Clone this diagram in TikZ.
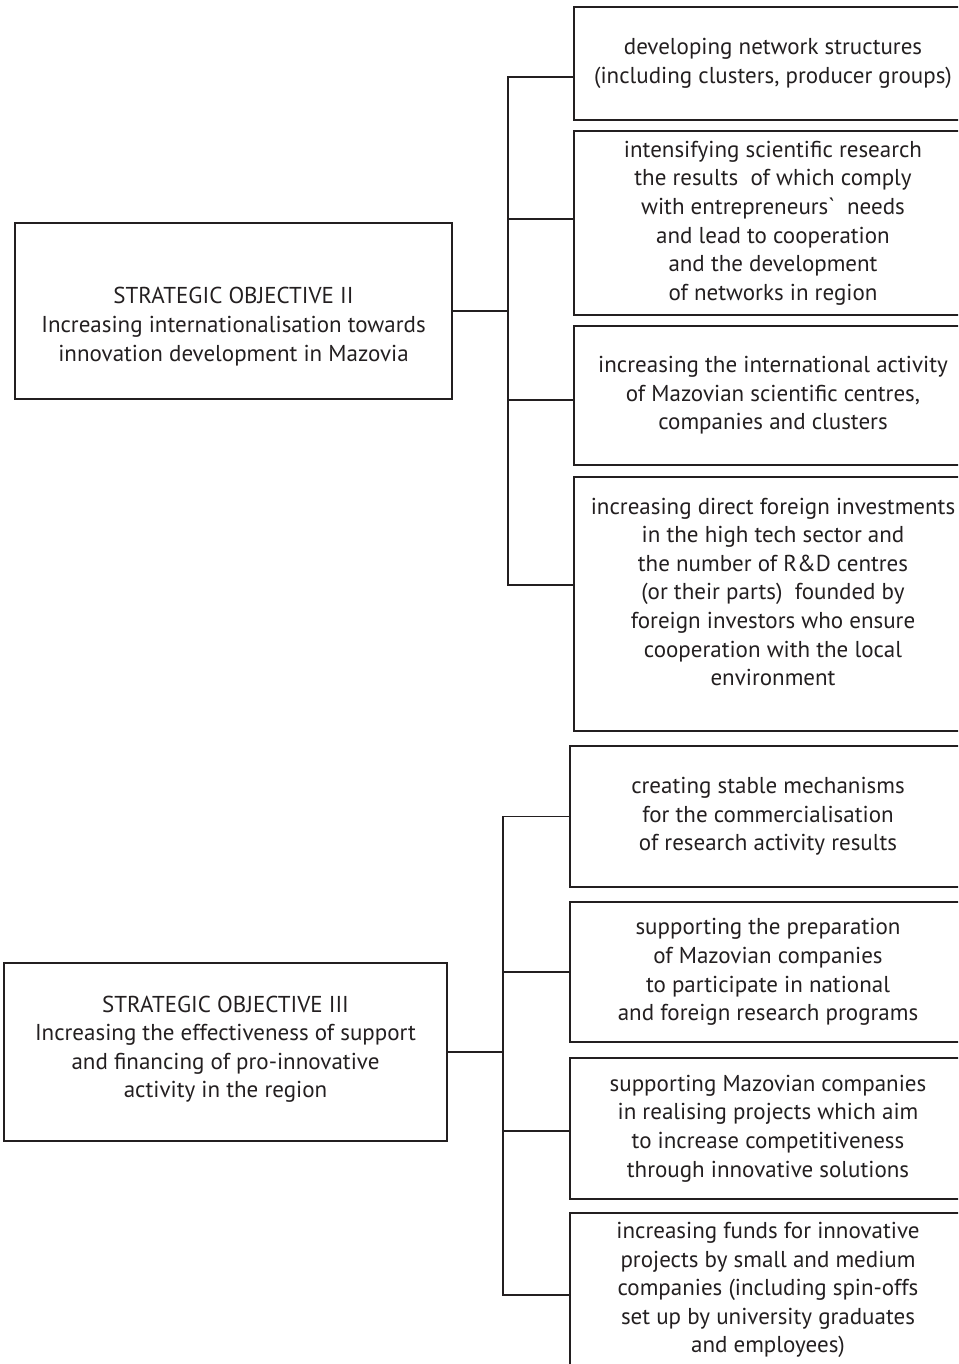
\documentclass[tikz,border=0pt]{standalone}
\usepackage{fontspec}
\setmainfont{PT Sans}
\usetikzlibrary{positioning}
\definecolor{linegray}{RGB}{35, 31, 32}
\tikzset{
    goal/.style={rectangle, draw=linegray, text=linegray, line width=1.3pt, align=center, inner sep=0pt, outer sep=0pt, font=\fontsize{23}{28.6}\selectfont},
    task/.style={goal, minimum width=398pt},
    link/.style={draw=linegray, line width=1.3pt}
}

\begin{document}
\begin{tikzpicture}[x=1pt, y=-1pt, node distance=11pt]
            \useasboundingbox (0,0) rectangle (958,1364);
            \clip (0,0) rectangle (958,1364);
            % strategic objective II
            \node (obj2) [goal, minimum width=437pt, minimum height=176pt] at (233.5,311) {\mbox{}\\[19pt] STRATEGIC OBJECTIVE II\\ Increasing internationalisation towards\\ innovation development in Mazovia};
            \node (t21) [task, minimum height=113pt, anchor=north west] at (574,7) {developing network structures\\ (including clusters, producer groups)};
            \node (t22) [task, minimum height=184pt, below=of t21] {intensifying scientific research\\ the results\ \ of which comply\\ with entrepreneurs\textasciigrave\ \ needs\\ and lead to cooperation\\ and the development\\ of networks in region};
            \node (t23) [task, minimum height=139pt, below=of t22] {increasing the international activity\\ of Mazovian scientific centres,\\ companies and clusters};
            \node (t24) [task, minimum height=254pt, below=12pt of t23] {increasing direct foreign investments\\ in the high tech sector and\\ the number of R\&D centres\\ (or their parts)\ \ founded by\\ foreign investors who ensure\\ cooperation with the local\\ environment\\[-4pt] \mbox{}};
            \coordinate (bus2) at (508,0);

            % strategic objective III
            \node (obj3) [goal, minimum width=443pt, minimum height=178pt] at (225.5,1052) {STRATEGIC OBJECTIVE III\\ Increasing the effectiveness of support\\ and financing of pro-innovative\\ activity in the region\\[-18pt] \mbox{}};
            \node (t31) [task, minimum width=396pt, minimum height=141pt, anchor=north west] at (570,746) {creating stable mechanisms\\ for the commercialisation\\ of research activity results};
            \node (t32) [task, minimum width=396pt, minimum height=140pt, below=15pt of t31] {supporting the preparation\\ of Mazovian companies\\ to participate in national\\ and foreign research programs};
            \node (t33) [task, minimum width=396pt, minimum height=141pt, below=16pt of t32] {supporting Mazovian companies\\ in realising projects which aim\\ to increase competitiveness\\ through innovative solutions};
            \node (t34) [task, minimum width=396pt, minimum height=154pt, below=14pt of t33] {increasing funds for innovative\\ projects by small and medium\\ companies (including spin-offs\\ set up by university graduates\\ and employees)};
            \coordinate (bus3) at (503,0);

            \draw [link] (obj2.east) -- (obj2.east -| bus2);
            \draw [link] ([yshift=-13.5pt]t21.west) -| ([yshift=19pt]t24.west -| bus2) -- ([yshift=19pt]t24.west);
            \draw [link] ([yshift=4pt]t22.west) -- ([yshift=4pt]t22.west -| bus2);
            \draw [link] ([yshift=-4.5pt]t23.west) -- ([yshift=-4.5pt]t23.west -| bus2);

            \draw [link] (obj3.east) -- (obj3.east -| bus3);
            \draw [link] (t31.west) -| ([yshift=-5pt]t34.west -| bus3) -- ([yshift=-5pt]t34.west);
            \draw [link] (t32.west) -- (t32.west -| bus3);
            \draw [link] ([yshift=-2.5pt]t33.west) -- ([yshift=-2.5pt]t33.west -| bus3);
        \end{tikzpicture}
\end{document}
